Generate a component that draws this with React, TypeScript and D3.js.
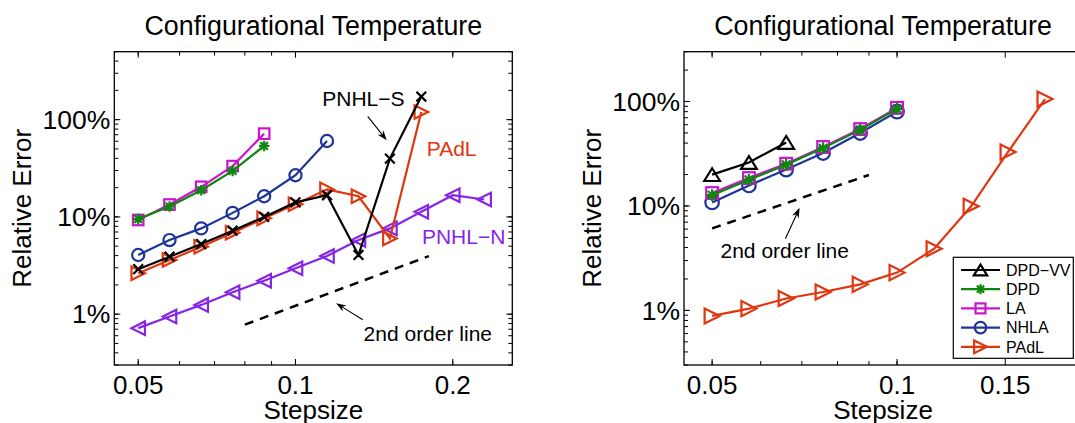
import React from 'react';
import * as d3 from 'd3';

const W = 1075;
const H = 423;
const FONT = "'Liberation Sans', Arial, Helvetica, sans-serif";

// step sizes (x values) shared by both panels
const stepsizes = [0.05, 0.0574, 0.066, 0.0758, 0.0871, 0.1, 0.1149, 0.132, 0.1516, 0.1741, 0.2, 0.2297];

// ---- left panel values (relative error as a fraction) ----
const leftLA = [0.093, 0.134, 0.204, 0.333, 0.718];
const leftDPD = [0.095, 0.128, 0.188, 0.297, 0.537];
const leftNHLA = [0.0406, 0.0578, 0.0762, 0.11, 0.163, 0.268, 0.604];
const leftPAdL = [0.0263, 0.036, 0.0493, 0.0687, 0.0966, 0.135, 0.192, 0.163, 0.06, 1.197];
const leftPNHLS = [0.029, 0.039, 0.0526, 0.0721, 0.1, 0.141, 0.167, 0.0406, 0.398, 1.73];
const leftPNHLN = [0.00718, 0.00945, 0.01245, 0.0168, 0.0221, 0.0296, 0.0396, 0.0578, 0.0762, 0.113, 0.167, 0.151];
const leftOrderX = [0.08, 0.18];
const leftOrderY = [0.0078, 0.0395];

// ---- right panel values ----
const rightDPDVV = [0.1995, 0.261, 0.406];
const rightDPD = [0.127, 0.178, 0.248, 0.358, 0.535, 0.85];
const rightLA = [0.133, 0.185, 0.254, 0.367, 0.545, 0.87];
const rightNHLA = [0.108, 0.157, 0.223, 0.321, 0.499, 0.8];
const rightPAdL = [0.00885, 0.0104, 0.013, 0.015, 0.01775, 0.023, 0.0389, 0.0993, 0.329, 1.055];
const rightOrderX = [0.05, 0.09];
const rightOrderY = [0.061, 0.198];

// ticks
const yTickValues = [0.01, 0.1, 1];
const xTicksLeft = [0.05, 0.1, 0.2];
const xTicksRight = [0.05, 0.1, 0.15];
const legendNames = ['DPD\u2212VV', 'DPD', 'LA', 'NHLA', 'PAdL'];

const C = {
  black: '#000000',
  green: '#0f870f',
  magenta: '#cc14cc',
  blue: '#1f3497',
  orange: '#e0360f',
  purple: '#8526e6',
};

type MType = 'circle' | 'square' | 'triR' | 'triL' | 'triU' | 'x' | 'star';

function Marker({ type, x, y, color, s }: { type: MType; x: number; y: number; color: string; s: number }) {
  const sw = 2.2;
  const h = s / 2;
  switch (type) {
    case 'circle':
      return <circle cx={x} cy={y} r={h * 0.9} fill="none" stroke={color} strokeWidth={sw} />;
    case 'square':
      return <rect x={x - h * 0.78} y={y - h * 0.78} width={h * 1.56} height={h * 1.56} fill="none" stroke={color} strokeWidth={sw} />;
    case 'triR':
      return <path d={`M${x + h},${y}L${x - h},${y - h}L${x - h},${y + h}Z`} fill="none" stroke={color} strokeWidth={sw} />;
    case 'triL':
      return <path d={`M${x - h},${y}L${x + h},${y - h}L${x + h},${y + h}Z`} fill="none" stroke={color} strokeWidth={sw} />;
    case 'triU':
      return <path d={`M${x},${y - h * 0.85}L${x + h * 1.05},${y + h * 0.85}L${x - h * 1.05},${y + h * 0.85}Z`} fill="none" stroke={color} strokeWidth={sw} />;
    case 'x': {
      const a = h * 0.72;
      return <path d={`M${x - a},${y - a}L${x + a},${y + a}M${x - a},${y + a}L${x + a},${y - a}`} stroke={color} strokeWidth={sw} />;
    }
    case 'star': {
      const a = h * 0.78;
      const b = a * 0.72;
      return (
        <path
          d={`M${x - a},${y}L${x + a},${y}M${x},${y - a}L${x},${y + a}M${x - b},${y - b}L${x + b},${y + b}M${x - b},${y + b}L${x + b},${y - b}`}
          stroke={color}
          strokeWidth={sw}
        />
      );
    }
  }
  return null;
}

interface Series {
  name: string;
  values: number[];
  color: string;
  marker: MType;
}

interface Note {
  text: string;
  x: number;
  y: number;
  color: string;
}

interface ArrowDef {
  from: [number, number];
  to: [number, number];
}

function Arrow({ x1, y1, x2, y2 }: { x1: number; y1: number; x2: number; y2: number }) {
  const ang = Math.atan2(y2 - y1, x2 - x1);
  const L = 10;
  const wdt = 3.6;
  const ux = Math.cos(ang);
  const uy = Math.sin(ang);
  const bx = x2 - ux * L;
  const by = y2 - uy * L;
  const nx = x2 - ux * L * 0.7;
  const ny = y2 - uy * L * 0.7;
  const p1 = [bx - uy * wdt, by + ux * wdt];
  const p2 = [bx + uy * wdt, by - ux * wdt];
  return (
    <g>
      <line x1={x1} y1={y1} x2={nx} y2={ny} stroke="#000" strokeWidth={1.1} />
      <path d={`M${x2},${y2}L${p1[0]},${p1[1]}L${nx},${ny}L${p2[0]},${p2[1]}Z`} fill="#000" />
    </g>
  );
}

interface PanelProps {
  x0: number;
  y0: number;
  w: number;
  h: number;
  xDomain: [number, number];
  yDomain: [number, number];
  xTicks: number[];
  series: Series[];
  orderX: number[];
  orderY: number[];
  notes: Note[];
  arrows: ArrowDef[];
  markerSize: number;
  legend?: boolean;
}

function Panel(p: PanelProps) {
  const x = d3.scaleLog().domain(p.xDomain).range([p.x0, p.x0 + p.w]);
  const y = d3.scaleLog().domain(p.yDomain).range([p.y0 + p.h, p.y0]);
  const line = d3
    .line<[number, number]>()
    .x((d) => x(d[0]))
    .y((d) => y(d[1]));
  const xMinor = x.ticks().filter((t) => t >= p.xDomain[0] && t <= p.xDomain[1]);
  const yMinor = y.ticks().filter((t) => t >= p.yDomain[0] && t <= p.yDomain[1]);
  const bottom = p.y0 + p.h;
  const right = p.x0 + p.w;
  const majT = 6;
  const minT = 4;
  const cx = p.x0 + p.w / 2;

  return (
    <g>
      <text x={cx} y={35} textAnchor="middle" fontSize={26.8} fontFamily={FONT} fill="#000">
        Configurational Temperature
      </text>
      <g stroke="#000" strokeWidth={1}>
        {xMinor.map((t) => (
          <g key={'xm' + t}>
            <line x1={x(t)} x2={x(t)} y1={bottom} y2={bottom - minT} />
            <line x1={x(t)} x2={x(t)} y1={p.y0} y2={p.y0 + minT} />
          </g>
        ))}
        {p.xTicks.map((t) => (
          <g key={'xM' + t}>
            <line x1={x(t)} x2={x(t)} y1={bottom} y2={bottom - majT} />
            <line x1={x(t)} x2={x(t)} y1={p.y0} y2={p.y0 + majT} />
          </g>
        ))}
        {yMinor.map((t) => (
          <g key={'ym' + t}>
            <line x1={p.x0} x2={p.x0 + minT} y1={y(t)} y2={y(t)} />
            <line x1={right} x2={right - minT} y1={y(t)} y2={y(t)} />
          </g>
        ))}
        {yTickValues.map((t) => (
          <g key={'yM' + t}>
            <line x1={p.x0} x2={p.x0 + majT} y1={y(t)} y2={y(t)} />
            <line x1={right} x2={right - majT} y1={y(t)} y2={y(t)} />
          </g>
        ))}
      </g>
      {p.xTicks.map((t) => (
        <text key={'xl' + t} x={x(t)} y={bottom + 29.3} textAnchor="middle" fontSize={26} fontFamily={FONT} fill="#000">
          {String(t)}
        </text>
      ))}
      {yTickValues.map((t) => (
        <text key={'yl' + t} x={p.x0 - 4} y={y(t)} dy="0.35em" textAnchor="end" fontSize={26.5} fontFamily={FONT} fill="#000">
          {`${Math.round(t * 100)}%`}
        </text>
      ))}
      <text x={cx} y={418.6} textAnchor="middle" fontSize={26} fontFamily={FONT} fill="#000">
        Stepsize
      </text>
      <text
        transform={`translate(${p.x0 - 83},${p.y0 + p.h / 2}) rotate(-90)`}
        textAnchor="middle"
        fontSize={26}
        fontFamily={FONT}
        fill="#000"
      >
        Relative Error
      </text>
      <path
        d={line(p.orderX.map((v, i) => [v, p.orderY[i]] as [number, number])) || ''}
        stroke="#000"
        strokeWidth={2.5}
        strokeDasharray="9 7"
        fill="none"
      />
      {p.series.map((s) => {
        const pts = s.values.map((v, i) => [stepsizes[i], v] as [number, number]);
        return (
          <g key={s.name}>
            <path d={line(pts) || ''} stroke={s.color} strokeWidth={2.2} fill="none" />
            {pts.map((d, i) => (
              <Marker key={i} type={s.marker} x={x(d[0])} y={y(d[1])} color={s.color} s={p.markerSize} />
            ))}
          </g>
        );
      })}
      {p.arrows.map((a, i) => (
        <Arrow key={'a' + i} x1={x(a.from[0])} y1={y(a.from[1])} x2={x(a.to[0])} y2={y(a.to[1])} />
      ))}
      {p.notes.map((n) => (
        <text key={n.text} x={x(n.x)} y={y(n.y)} fontSize={21} fontFamily={FONT} fill={n.color}>
          {n.text}
        </text>
      ))}
      <rect x={p.x0} y={p.y0} width={p.w} height={p.h} fill="none" stroke="#000" strokeWidth={1.3} />
      {p.legend && <Legend series={p.series} markerSize={p.markerSize} />}
    </g>
  );
}

function Legend({ series, markerSize }: { series: Series[]; markerSize: number }) {
  const lx = 953.3;
  const ly = 257.3;
  const lw = 120;
  const lh = 101;
  const order = legendNames.map((n) => series.find((s) => s.name === n)!).filter(Boolean);
  return (
    <g>
      <rect x={lx} y={ly} width={lw} height={lh} fill="#fff" stroke="#000" strokeWidth={1.2} />
      {order.map((s, i) => {
        const yy = ly + 12.7 + i * 19.2;
        return (
          <g key={s.name}>
            <line x1={lx + 7.7} x2={lx + 46.7} y1={yy} y2={yy} stroke={s.color} strokeWidth={2.2} />
            <Marker type={s.marker} x={lx + 27.2} y={yy} color={s.color} s={markerSize * 0.85} />
            <text x={lx + 52.7} y={yy} dy="0.36em" fontSize={16} fontFamily={FONT} fill="#000">
              {s.name}
            </text>
          </g>
        );
      })}
    </g>
  );
}

export default function App() {
  const leftSeries: Series[] = [
    { name: 'PNHL\u2212N', values: leftPNHLN, color: C.purple, marker: 'triL' },
    { name: 'PAdL', values: leftPAdL, color: C.orange, marker: 'triR' },
    { name: 'NHLA', values: leftNHLA, color: C.blue, marker: 'circle' },
    { name: 'LA', values: leftLA, color: C.magenta, marker: 'square' },
    { name: 'DPD', values: leftDPD, color: C.green, marker: 'star' },
    { name: 'PNHL\u2212S', values: leftPNHLS, color: C.black, marker: 'x' },
  ];
  const rightSeries: Series[] = [
    { name: 'PAdL', values: rightPAdL, color: C.orange, marker: 'triR' },
    { name: 'DPD\u2212VV', values: rightDPDVV, color: C.black, marker: 'triU' },
    { name: 'NHLA', values: rightNHLA, color: C.blue, marker: 'circle' },
    { name: 'LA', values: rightLA, color: C.magenta, marker: 'square' },
    { name: 'DPD', values: rightDPD, color: C.green, marker: 'star' },
  ];
  const leftNotes: Note[] = [
    { text: 'PNHL\u2212S', x: 0.1125, y: 1.38, color: C.black },
    { text: 'PAdL', x: 0.1783, y: 0.423, color: C.orange },
    { text: 'PNHL\u2212N', x: 0.1746, y: 0.0526, color: C.purple },
    { text: '2nd order line', x: 0.135, y: 0.00524, color: C.black },
  ];
  const leftArrows: ArrowDef[] = [
    { from: [0.1375, 1.08], to: [0.1495, 0.614] },
    { from: [0.1345, 0.00875], to: [0.1196, 0.01297] },
  ];
  const rightNotes: Note[] = [{ text: '2nd order line', x: 0.0516, y: 0.0319, color: C.black }];
  const rightArrows: ArrowDef[] = [{ from: [0.0658, 0.0485], to: [0.0694, 0.096] }];

  return (
    <svg
      width={W}
      height={H}
      viewBox={`0 0 ${W} ${H}`}
      style={{ position: 'absolute', left: 0, top: 0, background: '#fff' }}
    >
      <rect x={0} y={0} width={W} height={H} fill="#fff" />
      <Panel
        x0={114.3}
        y0={51.7}
        w={398}
        h={313.3}
        xDomain={[0.045, 0.26]}
        yDomain={[0.003, 5]}
        xTicks={xTicksLeft}
        series={leftSeries}
        orderX={leftOrderX}
        orderY={leftOrderY}
        notes={leftNotes}
        arrows={leftArrows}
        markerSize={13.5}
      />
      <Panel
        x0={684}
        y0={51.7}
        w={398}
        h={313.3}
        xDomain={[0.045, 0.2]}
        yDomain={[0.003, 3]}
        xTicks={xTicksRight}
        series={rightSeries}
        orderX={rightOrderX}
        orderY={rightOrderY}
        notes={rightNotes}
        arrows={rightArrows}
        markerSize={15}
        legend
      />
    </svg>
  );
}
